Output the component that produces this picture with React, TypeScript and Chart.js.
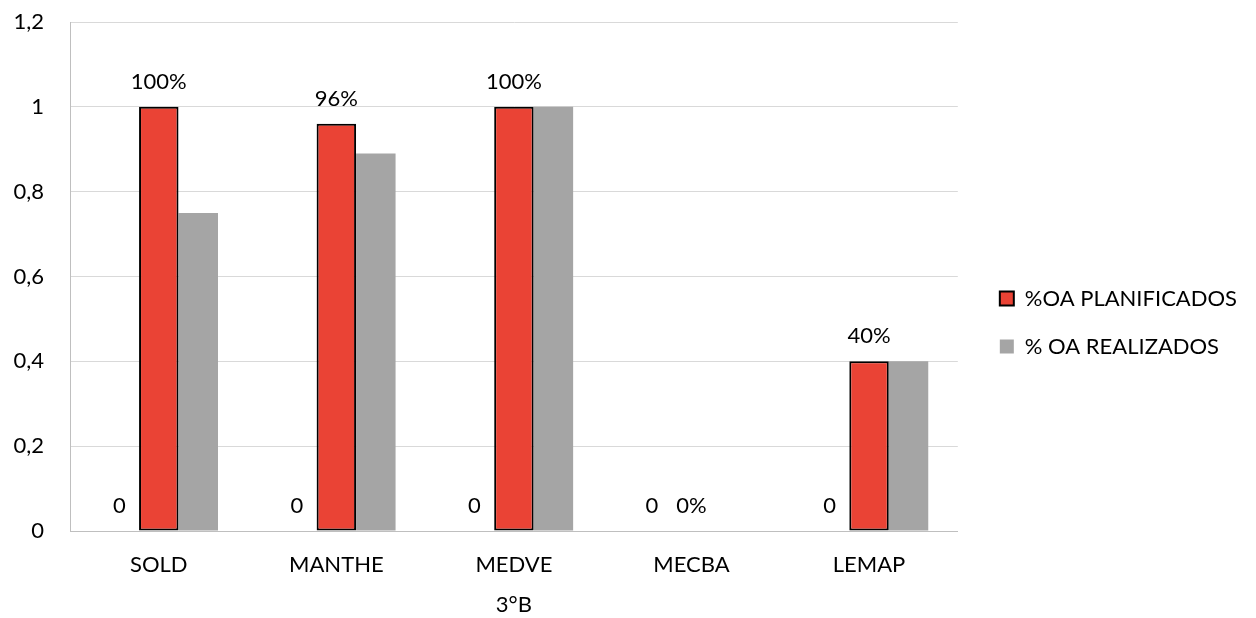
import React, { useEffect, useRef } from "react";
import { Chart, registerables } from "chart.js";

Chart.register(...registerables);

const categories = ["SOLD", "MANTHE", "MEDVE", "MECBA", "LEMAP"];
const seriesNames = ["Serie1", "%OA PLANIFICADOS", "% OA REALIZADOS"];
const baseSeries = [0, 0, 0, 0, 0];
const plannedSeries = [1, 0.96, 1, 0, 0.4];
const doneSeries = [0.75, 0.89, 1, 0, 0.4];
const baseLabels = ["0", "0", "0", "0", "0"];
const plannedLabels = ["100%", "96%", "100%", "0%", "40%"];
const yMin = 0;
const yMax = 1.2;
const yStep = 0.2;
const xTitle = "3°B";

const FONT = "Lato, 'Open Sans', sans-serif";
const FS = 22;

const labelPlugin = {
  id: "barLabels",
  afterDatasetsDraw(chart: any) {
    const ctx = chart.ctx;
    ctx.save();
    ctx.font = `${FS}px ${FONT}`;
    ctx.fillStyle = "#000000";
    ctx.textAlign = "center";
    ctx.textBaseline = "middle";
    const sets: [number, string[]][] = [
      [0, baseLabels],
      [1, plannedLabels],
    ];
    sets.forEach(([di, labels]) => {
      const meta = chart.getDatasetMeta(di);
      meta.data.forEach((el: any, i: number) => {
        ctx.fillText(labels[i], el.x, el.y - 25);
      });
    });
    ctx.restore();
  },
};

const legendShift = {
  id: "legendShift",
  afterLayout(chart: any) {
    const lg = chart.legend;
    if (!lg) return;
    lg.left += 16;
    lg.right += 16;
    lg.top += 2.5;
    lg.bottom += 2.5;
  },
};

export default function App() {
  const ref = useRef<HTMLCanvasElement | null>(null);
  useEffect(() => {
    if (!ref.current) return;
    const chart = new Chart(ref.current, {
      type: "bar",
      data: {
        labels: categories,
        datasets: [
          {
            label: seriesNames[0],
            data: baseSeries,
            backgroundColor: "rgba(0,0,0,0)",
            borderWidth: 0,
          },
          {
            label: seriesNames[1],
            data: plannedSeries,
            backgroundColor: "#EA4335",
            borderColor: "#000000",
            borderWidth: 2,
            borderSkipped: false,
          },
          {
            label: seriesNames[2],
            data: doneSeries,
            backgroundColor: "#A5A5A5",
            borderWidth: 0,
          },
        ],
      },
      options: {
        responsive: false,
        animation: false,
        events: [],
        layout: { padding: { top: 22, left: 0, right: 25, bottom: 0 } },
        datasets: {
          bar: { categoryPercentage: 0.667, barPercentage: 1 },
        },
        scales: {
          x: {
            grid: { display: false, drawTicks: false },
            border: { display: true, color: "#BFBFBF", width: 1 },
            ticks: { color: "#000000", font: { family: FONT, size: FS }, padding: 21 },
            title: {
              display: true,
              text: xTitle,
              color: "#000000",
              font: { family: FONT, size: FS },
              padding: { top: 4, bottom: 0 },
            },
            afterFit: (s: any) => {
              s.height = 87;
            },
          },
          y: {
            min: yMin,
            max: yMax,
            ticks: {
              stepSize: yStep,
              color: "#000000",
              font: { family: FONT, size: FS },
              padding: 26,
              callback: (v: any) => String(Number(Number(v).toFixed(1))).replace(".", ","),
            },
            grid: { color: "#D9D9D9", lineWidth: 1, drawTicks: false },
            border: { display: true, color: "#BFBFBF", width: 1 },
            afterFit: (s: any) => {
              s.width = 70;
              s.paddingTop = 0;
              s.paddingBottom = 0;
            },
          },
        },
        plugins: {
          legend: {
            position: "right",
            labels: {
              color: "#000000",
              font: { family: FONT, size: FS },
              boxWidth: 14,
              boxHeight: 14,
              padding: 26,
              filter: (item: any) => item.datasetIndex !== 0,
            },
          },
          tooltip: { enabled: false },
          title: { display: false },
        },
      },
      plugins: [labelPlugin, legendShift],
    });
    return () => chart.destroy();
  }, []);
  return (
    <div style={{ position: "absolute", left: 0, top: 0, width: 1256, height: 618, background: "#fff" }}>
      <canvas ref={ref} width={1256} height={618} style={{ display: "block" }} />
    </div>
  );
}
